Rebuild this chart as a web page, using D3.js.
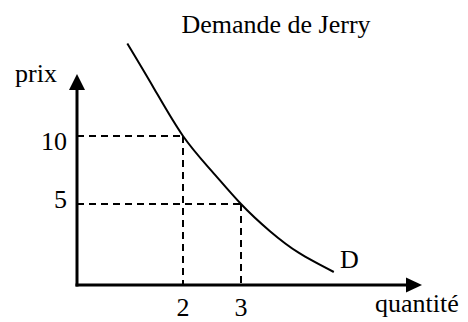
<!DOCTYPE html>
<html>
<head>
<meta charset="utf-8">
<script src="https://cdn.jsdelivr.net/npm/d3@7"></script>
<style>
  body { margin: 0; background: #fff; }
  svg { display: block; }
  text { font-family: "Liberation Serif", "Times New Roman", serif; fill: #000; }
</style>
</head>
<body>
<script>
// demand curve (quantité, prix)
const quantite = [1.04, 1.5, 2, 2.5, 3, 3.5, 4, 4.6];
const prix = [16.8, 13.5, 10, 7.4, 5, 3.0, 1.4, 0];
// the two marked points
const pointsQ = [2, 3];
const pointsP = [10, 5];
const title = "Demande de Jerry";

const width = 468, height = 322;
const origin = { x: 77, y: 285 };

const svg = d3.select("body").append("svg")
    .attr("width", width)
    .attr("height", height);

const x = d3.scaleLinear().domain([0, 6]).range([67, 415]);
const y = d3.scaleLinear().domain([0, 20]).range([272, 0]);

// dashed guides
pointsQ.forEach((q, i) => {
    const p = pointsP[i];
    svg.append("line")
        .attr("x1", origin.x).attr("x2", x(q))
        .attr("y1", y(p)).attr("y2", y(p))
        .attr("stroke", "#000").attr("stroke-width", 2)
        .attr("stroke-dasharray", "7,5");
    svg.append("line")
        .attr("x1", x(q)).attr("x2", x(q))
        .attr("y1", y(p)).attr("y2", origin.y)
        .attr("stroke", "#000").attr("stroke-width", 2)
        .attr("stroke-dasharray", "7,5");
});

// axes with arrows
svg.append("line")
    .attr("x1", origin.x).attr("x2", origin.x)
    .attr("y1", origin.y + 1.5).attr("y2", 88)
    .attr("stroke", "#000").attr("stroke-width", 3);
svg.append("path")
    .attr("d", `M${origin.x},74 L${origin.x - 8},90 L${origin.x + 8},90 Z`)
    .attr("fill", "#000");
svg.append("line")
    .attr("x1", origin.x - 1.5).attr("x2", 408)
    .attr("y1", origin.y).attr("y2", origin.y)
    .attr("stroke", "#000").attr("stroke-width", 3);
svg.append("path")
    .attr("d", `M422,${origin.y} L406,${origin.y - 7.5} L406,${origin.y + 7.5} Z`)
    .attr("fill", "#000");

// demand curve
const line = d3.line()
    .x(d => x(d[0]))
    .y(d => y(d[1]))
    .curve(d3.curveNatural);
svg.append("path")
    .datum(quantite.map((q, i) => [q, prix[i]]))
    .attr("d", line)
    .attr("fill", "none")
    .attr("stroke", "#000")
    .attr("stroke-width", 2);

// tick labels
svg.selectAll(".plabel")
    .data(pointsP)
    .enter().append("text")
    .attr("class", "plabel")
    .attr("x", 67)
    .attr("y", d => y(d))
    .attr("dy", d => d === 10 ? 14 : 4)
    .attr("text-anchor", "end")
    .attr("font-size", "26px")
    .text(d => d);
svg.selectAll(".qlabel")
    .data(pointsQ)
    .enter().append("text")
    .attr("class", "qlabel")
    .attr("x", d => x(d))
    .attr("y", 316)
    .attr("text-anchor", "middle")
    .attr("font-size", "26px")
    .text(d => d);

// texts
svg.append("text")
    .attr("x", 276).attr("y", 33)
    .attr("text-anchor", "middle")
    .attr("font-size", "26px")
    .text(title);
svg.append("text")
    .attr("x", 15).attr("y", 82)
    .attr("font-size", "26px")
    .text("prix");
svg.append("text")
    .attr("x", 375).attr("y", 312)
    .attr("font-size", "26px")
    .text("quantité");
svg.append("text")
    .attr("x", 340).attr("y", 268)
    .attr("font-size", "26px")
    .text("D");
</script>
</body>
</html>
